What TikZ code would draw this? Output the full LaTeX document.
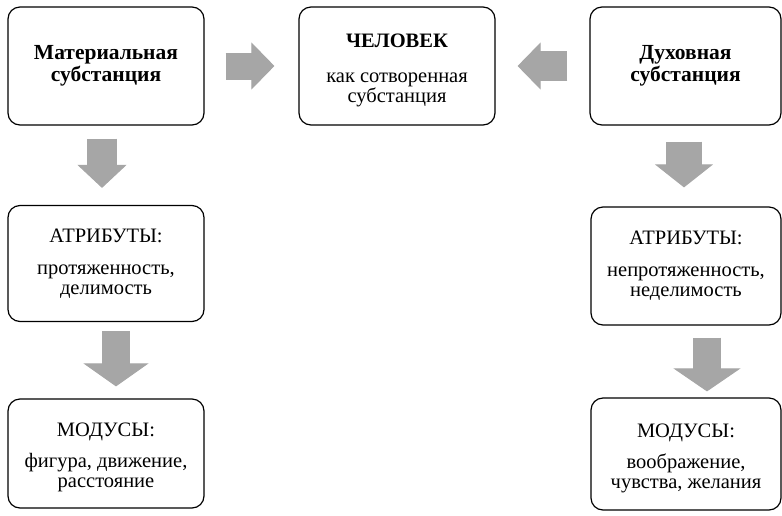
\documentclass[tikz,border=0pt]{standalone}
\usepackage{fontspec}
\setmainfont{Liberation Serif}
\usetikzlibrary{arrows.meta,positioning}

\definecolor{arrowgray}{RGB}{166,166,166}

\tikzset{
    box/.style={draw, line width=1.2pt, rounded corners=12pt, minimum width=196pt,
        align=center, font=\fontsize{20.5}{20}\selectfont},
    headbox/.style={box, font=\fontsize{21.5}{21.5}\selectfont\bfseries},
    fatarrow/.style 2 args={draw=arrowgray, line width=#1,
        -{Triangle[length=23pt, width=#2, line width=1pt]}},
}

\begin{document}
\begin{tikzpicture}[x=1pt, y=-1pt]
    \useasboundingbox (0,0) rectangle (782,515);

    \node[headbox, minimum height=118pt] (mat) at (106, 66) {Материальная\\субстанция};
    \node[box, minimum height=118pt] (man) at (397, 66) {\rule{0pt}{22pt}{\bfseries ЧЕЛОВЕК}\\[15pt]как сотворенная\\субстанция};
    \node[headbox, minimum height=118pt, minimum width=191pt] (dukh) at (685.5, 66) {Духовная\\субстанция};

    \node[box, minimum height=116pt] (attrL) at (106, 263.5) {АТРИБУТЫ:\\[12pt]протяженность,\\делимость};
    \node[box, minimum height=118pt, minimum width=190pt] (attrR) at (686, 266) {АТРИБУТЫ:\\[12pt]непротяженность,\\неделимость};

    \node[box, minimum height=109pt] (modL) at (106, 453.5) {\rule{0pt}{22pt}МОДУСЫ:\\[11pt]фигура, движение,\\расстояние};
    \node[box, minimum height=112pt, minimum width=190pt] (modR) at (686, 454) {\rule{0pt}{22pt}МОДУСЫ:\\[11pt]воображение,\\чувства, желания};

    % horizontal arrows to the centre
    \draw[fatarrow={27pt}{47pt}] ([xshift=21pt]mat.east) -- ([xshift=-24pt]man.west);
    \draw[fatarrow={30pt}{47pt}] ([xshift=-22pt]dukh.west) -- ([xshift=22pt]man.east);

    % downward arrows
    \draw[fatarrow={30pt}{49pt}] ([xshift=-4pt, yshift=-13pt]mat.south) -- ([xshift=-4pt, yshift=17pt]attrL.north);
    \draw[fatarrow={28pt}{65pt}] ([xshift=10pt, yshift=-9pt]attrL.south) -- ([xshift=10pt, yshift=12pt]modL.north);
    \draw[fatarrow={36pt}{58pt}] ([xshift=-1.5pt, yshift=-16pt]dukh.south) -- ([xshift=-2pt, yshift=19pt]attrR.north);
    \draw[fatarrow={28pt}{67pt}] ([xshift=21pt, yshift=-12pt]attrR.south) -- ([xshift=21pt, yshift=6pt]modR.north);
\end{tikzpicture}
\end{document}
